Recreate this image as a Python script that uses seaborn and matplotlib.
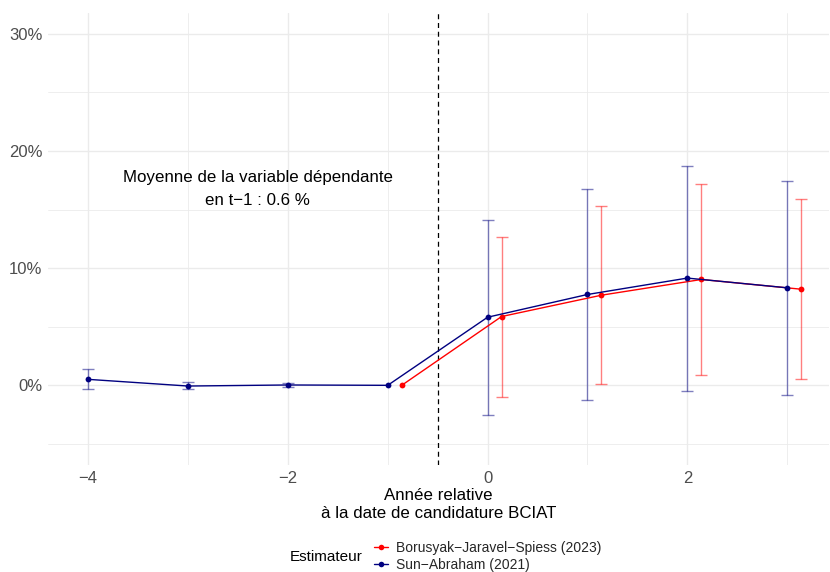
import seaborn as sns
import matplotlib.pyplot as plt
import matplotlib.ticker as mticker
from matplotlib.lines import Line2D
import numpy as np
import pandas as pd

# ---- données (en %) ----
annees_sa = [-4, -3, -2, -1, 0, 1, 2, 3]
coef_sa = [0.51, -0.06, 0.03, 0.0, 5.81, 7.75, 9.15, 8.32]
bas_sa = [-0.34, -0.34, -0.15, 0.0, -2.50, -1.28, -0.46, -0.80]
haut_sa = [1.37, 0.28, 0.17, 0.0, 14.13, 16.75, 18.75, 17.44]

annees_bjs = [-1, 0, 1, 2, 3]
coef_bjs = [0.0, 5.87, 7.69, 9.03, 8.20]
bas_bjs = [0.0, -1.00, 0.11, 0.85, 0.54]
haut_bjs = [0.0, 12.68, 15.27, 17.18, 15.90]

noms = ["Borusyak\u2212Jaravel\u2212Spiess (2023)", "Sun\u2212Abraham (2021)"]
couleurs = {noms[0]: "#FF0000", noms[1]: "#000080"}
decalage = {noms[0]: 0.14, noms[1]: 0.0}

df = pd.concat([
    pd.DataFrame({"annee": annees_bjs, "coef": coef_bjs, "bas": bas_bjs,
                  "haut": haut_bjs, "estimateur": noms[0]}),
    pd.DataFrame({"annee": annees_sa, "coef": coef_sa, "bas": bas_sa,
                  "haut": haut_sa, "estimateur": noms[1]}),
], ignore_index=True)
df["x"] = df["annee"] + df["estimateur"].map(decalage)

sns.set_theme(style="whitegrid")
plt.rcParams["font.family"] = ["Liberation Sans", "DejaVu Sans"]

fig, ax = plt.subplots(figsize=(8.3, 5.72), dpi=100)
fig.subplots_adjust(left=0.058, right=0.999, top=0.978, bottom=0.187)

# barres d'erreur (transparentes)
for nom, d in df.groupby("estimateur"):
    err = d[d["haut"] > d["bas"]]
    ax.errorbar(err["x"], err["coef"],
                yerr=[err["coef"] - err["bas"], err["haut"] - err["coef"]],
                fmt="none", ecolor=couleurs[nom], alpha=0.5, elinewidth=1,
                capsize=4, capthick=1, zorder=2)

sns.lineplot(data=df, x="x", y="coef", hue="estimateur", palette=couleurs,
             marker="o", markersize=4.2, markeredgewidth=0, linewidth=1,
             estimator=None, sort=True, legend=False, ax=ax, zorder=3)

ax.axvline(-0.5, color="black", linestyle=(0, (4, 3)), linewidth=0.9, zorder=1)

ax.text(-2.3, 16.75, "Moyenne de la variable dépendante\nen t\u22121 : 0.6 %",
        ha="center", va="center", fontsize=12.2, color="black",
        linespacing=1.65)

ax.set_xlim(-4.4, 3.42)
ax.set_ylim(-6.8, 31.8)
ax.xaxis.set_major_locator(mticker.FixedLocator([-4, -2, 0, 2]))
ax.xaxis.set_minor_locator(mticker.FixedLocator([-3, -1, 1, 3]))
ax.yaxis.set_major_locator(mticker.FixedLocator([0, 10, 20, 30]))
ax.yaxis.set_minor_locator(mticker.FixedLocator([-5, 5, 15, 25]))
ax.xaxis.set_major_formatter(mticker.FuncFormatter(
    lambda v, p: f"{v:.0f}".replace("-", "\u2212")))
ax.yaxis.set_major_formatter(mticker.FuncFormatter(lambda v, p: f"{v:.0f}%"))

ax.grid(which="major", color="#EBEBEB", linewidth=1.0)
ax.grid(which="minor", color="#EBEBEB", linewidth=0.6)
ax.set_facecolor("white")
for s in ax.spines.values():
    s.set_visible(False)
ax.tick_params(axis="both", which="both", length=0, labelsize=12,
               labelcolor="#4D4D4D", pad=4)

ax.set_xlabel("Année relative\nà la date de candidature BCIAT", fontsize=12.2,
              color="black", labelpad=2, linespacing=1.25)
ax.set_ylabel("")

# légende en bas avec le titre à gauche
poignees = [Line2D([0], [0], color=couleurs[n], marker="o", markersize=4,
                   markeredgewidth=0, linewidth=1) for n in noms]
fig.legend(poignees, noms, loc="center left", bbox_to_anchor=(0.442, 0.027),
           frameon=False, fontsize=10, handlelength=1.0, handletextpad=0.6,
           labelspacing=0.2, borderpad=0)
fig.text(0.437, 0.027, "Estimateur", ha="right", va="center", fontsize=11,
         color="black")

fig.savefig("out.png", dpi=100)
